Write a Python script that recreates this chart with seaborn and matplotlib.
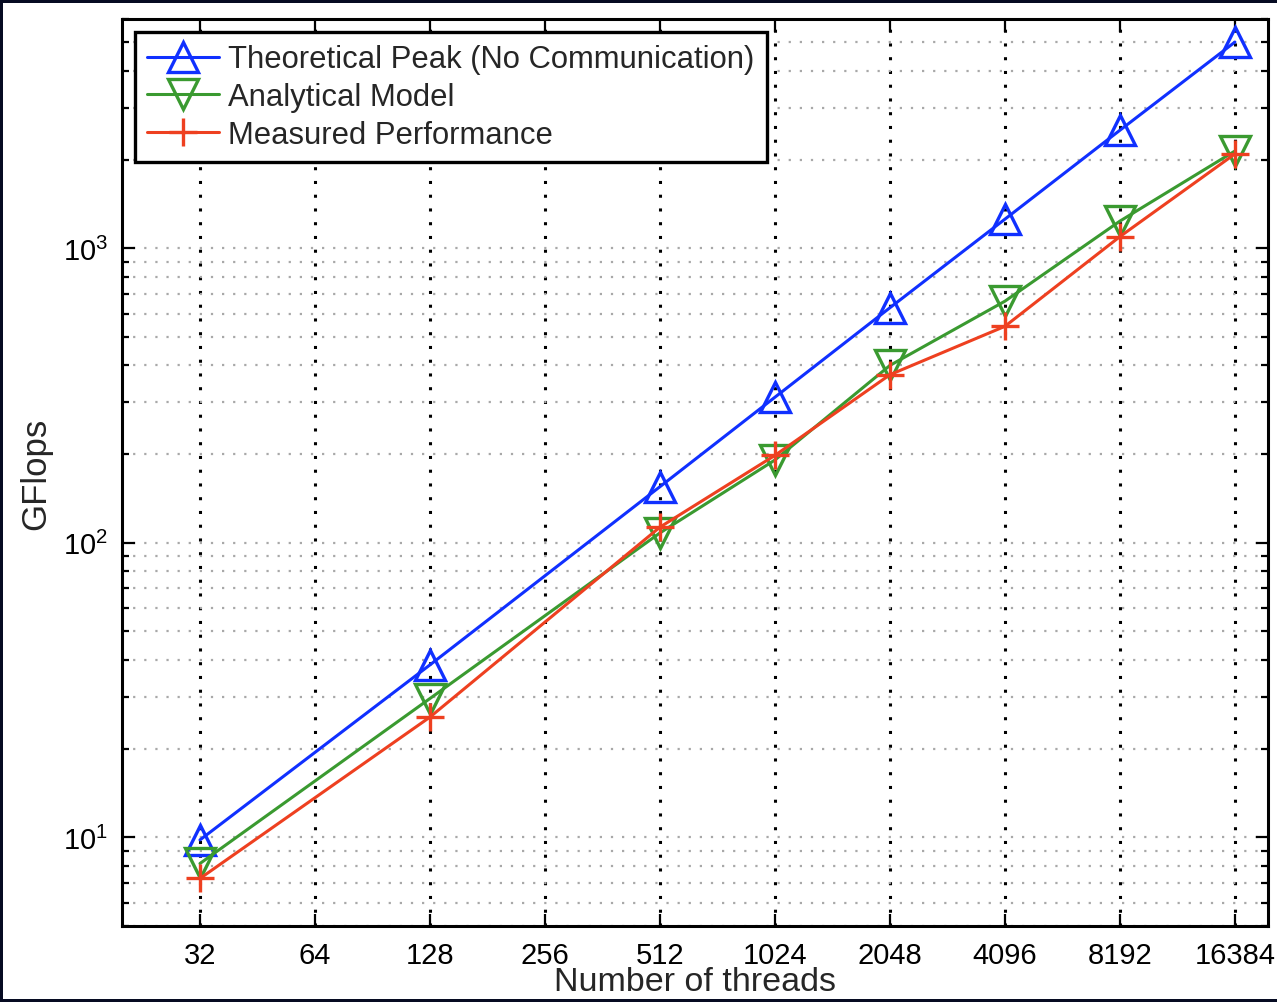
import numpy as np
import pandas as pd
import matplotlib
matplotlib.use("Agg")
import matplotlib.pyplot as plt
import matplotlib.ticker as mticker
from matplotlib.patches import Rectangle
import seaborn as sns

threads = [32, 128, 512, 1024, 2048, 4096, 8192, 16384]
x_ticks = [32, 64, 128, 256, 512, 1024, 2048, 4096, 8192, 16384]

theoretical_peak = [9.8, 38.5, 155, 312, 628, 1255, 2515, 5010]
analytical_model = [8.15, 29.6, 108, 191, 400, 661, 1236, 2138]
measured_perf = [7.25, 25.6, 113, 198, 372, 543, 1095, 2090]

series_names = ["Theoretical Peak (No Communication)", "Analytical Model",
                "Measured Performance"]
series_values = [theoretical_peak, analytical_model, measured_perf]
series_colors = ["#1030ff", "#3a9a30", "#ee4020"]
series_markers = ["^", "v", "+"]

sns.set_style("white")
plt.rcParams["font.family"] = ["Liberation Sans", "DejaVu Sans"]
plt.rcParams["mathtext.fontset"] = "custom"
plt.rcParams["mathtext.rm"] = "Liberation Sans"
plt.rcParams["mathtext.it"] = "Liberation Sans"

W, H = 1277, 1003
fig = plt.figure(figsize=(W / 100, H / 100), dpi=100, facecolor="#060b22")
# white page inside the dark frame
fig.patches.append(Rectangle((3 / W, 3 / H), 1.0, (1000 - 4) / H,
                             transform=fig.transFigure, facecolor="white",
                             edgecolor="none", zorder=-10))

ax = fig.add_axes([122 / W, (H - 927) / H, (1268 - 122) / W, (927 - 20) / H])
ax.set_facecolor("white")

frames = []
for name, vals in zip(series_names, series_values):
    frames.append(pd.DataFrame({"threads": threads, "gflops": vals, "series": name}))
df = pd.concat(frames, ignore_index=True)

for name, color, marker in zip(series_names, series_colors, series_markers):
    sub = df[df["series"] == name]
    sns.lineplot(data=sub, x="threads", y="gflops", ax=ax, color=color,
                 linewidth=2.2, marker=marker, markersize=21 if marker != "+" else 20,
                 markerfacecolor="none", markeredgecolor=color,
                 markeredgewidth=2.4, label=name, zorder=3)

ax.set_xscale("log", base=2)
ax.set_yscale("log")
ax.set_xlim(20, 20000)
ax.set_ylim(5, 6000)

ax.xaxis.set_major_locator(mticker.FixedLocator(x_ticks))
ax.xaxis.set_major_formatter(mticker.FixedFormatter([str(t) for t in x_ticks]))
ax.xaxis.set_minor_locator(mticker.NullLocator())
ax.yaxis.set_major_locator(mticker.LogLocator(base=10))
ax.yaxis.set_minor_locator(mticker.LogLocator(base=10, subs=np.arange(2, 10)))
ax.yaxis.set_minor_formatter(mticker.NullFormatter())

# grid: dark dotted verticals, light dotted horizontals
ax.grid(False)
ax.xaxis.grid(True, which="major", color="black", linestyle=(0, (1, 3.5)),
              linewidth=2.2, zorder=1)
ax.yaxis.grid(True, which="both", color="#a8a8a8", linestyle=(0, (1, 4)),
              linewidth=1.6, zorder=1)

ax.tick_params(which="both", direction="in", top=True, right=True,
               bottom=True, left=True, colors="black", width=1.6)
ax.tick_params(which="major", length=9, labelsize=21)
ax.tick_params(which="minor", length=5)
ax.tick_params(axis="x", which="major", pad=11)
ax.tick_params(axis="y", which="major", pad=10)

for sp in ax.spines.values():
    sp.set_visible(True)
    sp.set_color("black")
    sp.set_linewidth(2.2)

ax.set_xlabel("Number of threads", fontsize=24.5, labelpad=-2)
ax.set_ylabel("GFlops", fontsize=25, labelpad=8)

leg = ax.legend(loc="upper left", bbox_to_anchor=(13 / 1146, (927 - 33) / 907),
                borderaxespad=0, fontsize=22.3, frameon=True, fancybox=False,
                framealpha=1, edgecolor="black", handlelength=2.3,
                handletextpad=0.3, labelspacing=0.25, borderpad=0.4)
leg.get_frame().set_linewidth(2.4)

fig.savefig("out.png", dpi=100, facecolor=fig.get_facecolor())
